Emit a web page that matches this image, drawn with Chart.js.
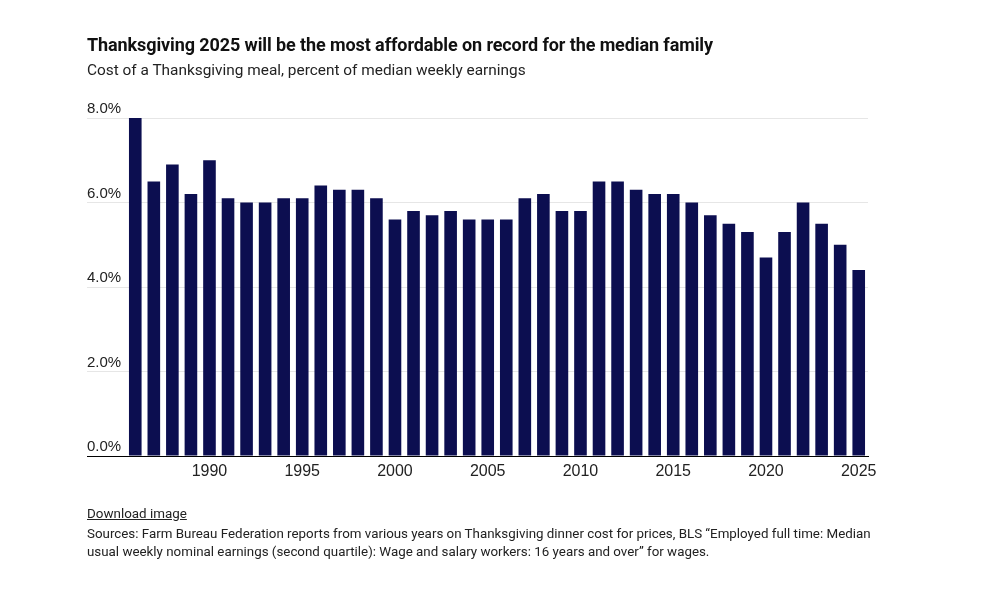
<!DOCTYPE html>
<html>
<head>
<meta charset="utf-8">
<script src="https://cdn.jsdelivr.net/npm/chart.js@4"></script>
<style>
  html, body { margin: 0; padding: 0; background: #fff; }
  #wrap { position: relative; width: 995px; height: 600px; overflow: hidden; }
  #c { position: absolute; left: 0; top: 0; }
  .t { position: absolute; left: 87px; font-family: Roboto, "Liberation Sans", sans-serif; color: #111; white-space: nowrap; }
  #title { top: 34px; font-size: 18px; font-weight: 700; letter-spacing: -0.1px; }
  #sub { top: 61px; font-size: 15.4px; color: #222; }
  #dl { top: 506px; font-size: 13.4px; text-decoration: underline; color: #222; }
  #src { top: 525px; font-size: 13.35px; line-height: 18px; color: #222; white-space: normal; width: 800px; }
</style>
</head>
<body>
<div id="wrap">
  <canvas id="c" width="995" height="600"></canvas>
  <div class="t" id="title">Thanksgiving 2025 will be the most affordable on record for the median family</div>
  <div class="t" id="sub">Cost of a Thanksgiving meal, percent of median weekly earnings</div>
  <div class="t" id="dl">Download image</div>
  <div class="t" id="src">Sources: Farm Bureau Federation reports from various years on Thanksgiving dinner cost for prices, BLS “Employed full time: Median usual weekly nominal earnings (second quartile): Wage and salary workers: 16 years and over” for wages.</div>
</div>
<script>
const years = [1986,1987,1988,1989,1990,1991,1992,1993,1994,1995,1996,1997,1998,1999,2000,2001,2002,2003,2004,2005,2006,2007,2008,2009,2010,2011,2012,2013,2014,2015,2016,2017,2018,2019,2020,2021,2022,2023,2024,2025];
const costShare = [8.0,6.5,6.9,6.2,7.0,6.1,6.0,6.0,6.1,6.1,6.4,6.3,6.3,6.1,5.6,5.8,5.7,5.8,5.6,5.6,5.6,6.1,6.2,5.8,5.8,6.5,6.5,6.3,6.2,6.2,6.0,5.7,5.5,5.3,4.7,5.3,6.0,5.5,5.0,4.4];
const xTickYears = [1990,1995,2000,2005,2010,2015,2020,2025];
const yTicks = [0,2,4,6,8];

new Chart(document.getElementById('c'), {
  type: 'bar',
  data: {
    labels: years.map(String),
    datasets: [{
      data: costShare,
      backgroundColor: '#0c0e50',
      borderWidth: 0,
      categoryPercentage: 1.0,
      barPercentage: 0.68
    }]
  },
  options: {
    responsive: false,
    animation: false,
    devicePixelRatio: 1,
    layout: { padding: { left: 87, right: 127, top: 118, bottom: 114 } },
    plugins: { legend: { display: false }, tooltip: { enabled: false } },
    scales: {
      x: {
        afterFit: (s) => { s.height = 30; },
        grid: { display: false, drawTicks: false },
        border: { display: true, color: '#000', width: 1 },
        ticks: {
          autoSkip: false,
          maxRotation: 0,
          padding: 6,
          color: '#222',
          font: { family: '"Liberation Sans", Arial, sans-serif', size: 16 },
          callback: function(v, i) { const y = years[i]; return xTickYears.includes(y) ? String(y) : ''; }
        }
      },
      y: {
        min: 0, max: 8,
        afterFit: (s) => { s.width = 39; },
        afterBuildTicks: (s) => { s.ticks = yTicks.map(v => ({ value: v })); },
        border: { display: false },
        grid: {
          drawTicks: true,
          tickLength: 39,
          color: (ctx) => ctx.tick && ctx.tick.value === 0 ? '#000' : '#e6e6e6',
          lineWidth: 1
        },
        ticks: {
          crossAlign: 'far',
          labelOffset: -9,
          padding: 0,
          color: '#222',
          font: { family: '"Liberation Sans", Arial, sans-serif', size: 15 },
          callback: (v) => v.toFixed(1) + '%'
        }
      }
    }
  }
});
</script>
</body>
</html>
